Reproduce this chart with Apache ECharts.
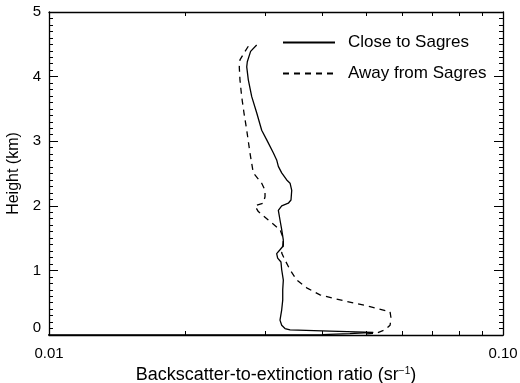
<!DOCTYPE html>
<html>
<head>
<meta charset="utf-8">
<script src="https://cdn.jsdelivr.net/npm/echarts@6/dist/echarts.min.js"></script>
<style>
  html, body { margin: 0; padding: 0; background: #fff; }
  #chart { width: 520px; height: 383px; }
</style>
</head>
<body>
<div id="chart"></div>
<script>
// Lidar backscatter-to-extinction ratio profiles (sr^-1) versus height (km)
const closeRatio = [0.02867, 0.02780, 0.02734, 0.02726, 0.02748, 0.02796, 0.02867, 0.02941, 0.03017,
  0.03119, 0.03173, 0.03200, 0.03255, 0.03339, 0.03396, 0.03425, 0.03412, 0.03366, 0.03255,
  0.03200, 0.03227, 0.03255, 0.03282, 0.03272, 0.03227, 0.03173, 0.03189, 0.03243, 0.03255,
  0.03282, 0.03272, 0.03272, 0.03255, 0.03227, 0.03255, 0.03310, 0.03396, 0.04158, 0.05180,
  0.04600, 0.0400, 0.0060];
const closeHeight = [4.49, 4.39, 4.23, 4.15, 3.95, 3.69, 3.44, 3.17, 3.02,
  2.82, 2.71, 2.61, 2.51, 2.40, 2.35, 2.24, 2.09, 2.04, 2.00,
  1.93, 1.78, 1.63, 1.47, 1.37, 1.32, 1.26, 1.19, 1.13, 1.01,
  0.85, 0.70, 0.54, 0.39, 0.23, 0.15, 0.10, 0.08, 0.06, 0.04,
  0.02, 0.005, 0.0];

const awayRatio = [0.02748, 0.02702, 0.02634, 0.02625, 0.02634, 0.02657, 0.02688, 0.02726, 0.02771,
  0.02818, 0.02941, 0.02991, 0.02991, 0.02965, 0.02842, 0.02818, 0.02891, 0.03041, 0.03227,
  0.03282, 0.03282, 0.03255, 0.03310, 0.03396, 0.03513, 0.03695, 0.03953, 0.04223, 0.04526,
  0.05093, 0.05639, 0.05667, 0.05639, 0.05496, 0.05270, 0.04900];
const awayHeight = [4.47, 4.39, 4.26, 4.15, 3.95, 3.69, 3.44, 3.17, 2.82,
  2.51, 2.35, 2.24, 2.14, 2.04, 2.00, 1.97, 1.91, 1.78, 1.63,
  1.50, 1.39, 1.27, 1.16, 1.01, 0.85, 0.73, 0.62, 0.57, 0.52,
  0.44, 0.36, 0.26, 0.15, 0.08, 0.03, 0.01];

const seriesNames = ['Close to Sagres', 'Away from Sagres'];
const xTickValues = [0.01, 0.02, 0.03, 0.04, 0.05, 0.06, 0.07, 0.08, 0.09, 0.1];
const xLabelValues = [0.01, 0.1];
const yMin = 0, yMax = 5, yStep = 1;

const FONT = 'Liberation Sans';
const pairs = (xs, ys) => xs.map((x, i) => [x, ys[i]]);

const chart = echarts.init(document.getElementById('chart'), null, { renderer: 'canvas' });

const xCommon = {
  type: 'log', logBase: 10, min: 0.01, max: 0.1,
  axisLine: { show: true, onZero: false, lineStyle: { color: '#000', width: 1.3 } },
  splitLine: { show: false },
  axisTick: { show: true, inside: true, length: 4, customValues: xTickValues,
    lineStyle: { color: '#000', width: 1 } }
};
const yCommon = {
  type: 'value', min: yMin, max: yMax, interval: yStep,
  axisLine: { show: true, onZero: false, lineStyle: { color: '#000', width: 1.3 } },
  splitLine: { show: false },
  axisTick: { show: true, inside: true, length: 9, lineStyle: { color: '#000', width: 1 } },
  minorTick: { show: true, splitNumber: 10, length: 4, lineStyle: { color: '#000', width: 1 } }
};

chart.setOption({
  animation: false,
  backgroundColor: '#fff',
  grid: { left: 49, right: 17, top: 12, bottom: 48, containLabel: false, outerBoundsMode: 'none' },
  legend: {
    orient: 'vertical', left: 282, top: 34, padding: 0,
    itemWidth: 52, itemHeight: 14, itemGap: 14,
    data: seriesNames,
    itemStyle: { opacity: 0 },
    textStyle: { fontFamily: FONT, fontSize: 17, color: '#000', padding: [0, 0, 0, 8] }
  },
  xAxis: [
    Object.assign({}, xCommon, {
      position: 'bottom',
      name: 'Backscatter-to-extinction ratio (sr{sup|−1})',
      nameLocation: 'middle', nameGap: 29,
      nameTextStyle: { fontFamily: FONT, fontSize: 18, color: '#000',
        rich: { sup: { fontFamily: FONT, fontSize: 10, color: '#000', verticalAlign: 'top', padding: [0, 0, 8, 0] } } },
      axisLabel: { show: true, margin: 11, fontFamily: FONT, fontSize: 15, color: '#000',
        customValues: xLabelValues, formatter: v => v.toFixed(2) }
    }),
    Object.assign({}, xCommon, { position: 'top', axisLabel: { show: false } })
  ],
  yAxis: [
    Object.assign({}, yCommon, {
      position: 'left',
      name: 'Height (km)', nameLocation: 'middle', nameGap: 20, nameRotate: 90,
      nameTextStyle: { fontFamily: FONT, fontSize: 16, color: '#000' },
      axisLabel: { show: true, margin: 8, fontFamily: FONT, fontSize: 15, color: '#000',
        verticalAlignMinLabel: 'bottom' }
    }),
    Object.assign({}, yCommon, { position: 'right', axisLabel: { show: false } })
  ],
  series: [
    {
      name: seriesNames[0], type: 'line', xAxisIndex: 0, yAxisIndex: 0,
      data: pairs(closeRatio, closeHeight),
      showSymbol: false, symbol: 'none', clip: true,
      lineStyle: { color: '#000', width: 1.3, type: 'solid' },
      itemStyle: { color: '#000' }
    },
    {
      name: seriesNames[1], type: 'line', xAxisIndex: 0, yAxisIndex: 0,
      data: pairs(awayRatio, awayHeight),
      showSymbol: false, symbol: 'none', clip: true,
      lineStyle: { color: '#000', width: 1.3, type: [6, 5] },
      itemStyle: { color: '#000' }
    }
  ]
});
</script>
</body>
</html>
